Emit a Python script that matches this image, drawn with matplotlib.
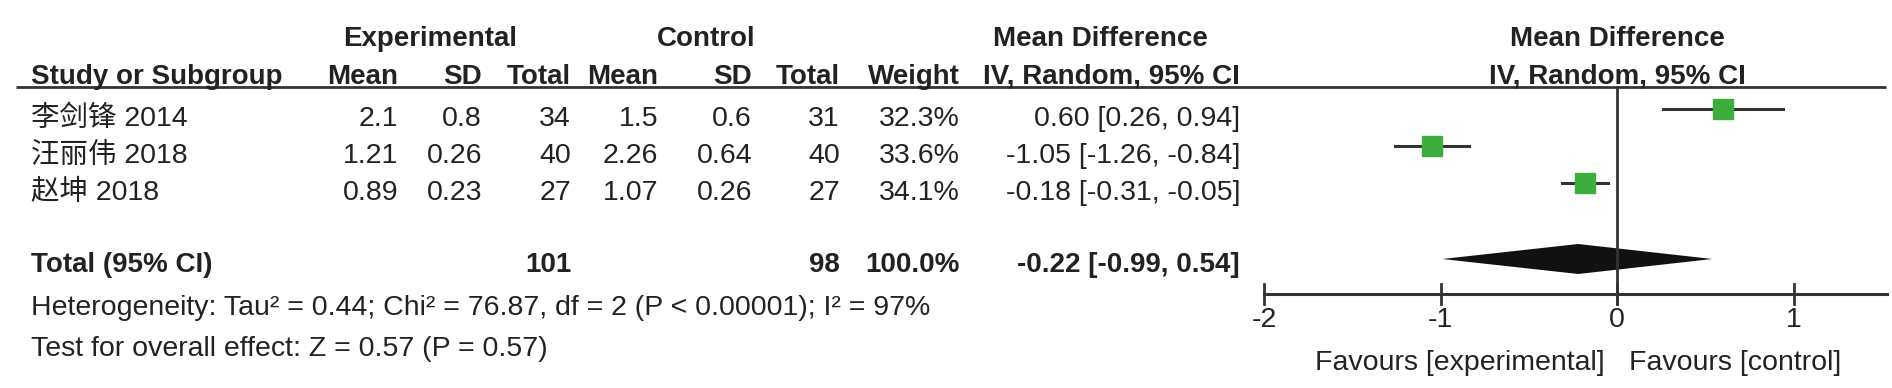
import matplotlib.pyplot as plt
import numpy as np

# ---- data ----
studies = ["李剑锋 2014", "汪丽伟 2018", "赵坤 2018"]
exp_mean = [2.1, 1.21, 0.89]
exp_sd = [0.8, 0.26, 0.23]
exp_n = [34, 40, 27]
ctl_mean = [1.5, 2.26, 1.07]
ctl_sd = [0.6, 0.64, 0.26]
ctl_n = [31, 40, 27]
weight = [32.3, 33.6, 34.1]
md = [0.60, -1.05, -0.18]
ci_lo = [0.26, -1.26, -0.31]
ci_hi = [0.94, -0.84, -0.05]

total_n_exp, total_n_ctl = 101, 98
total_weight = 100.0
total_md, total_lo, total_hi = -0.22, -0.99, 0.54

xticks = [-2, -1, 0, 1]
het_text = "Heterogeneity: Tau² = 0.44; Chi² = 76.87, df = 2 (P < 0.00001); I² = 97%"
effect_text = "Test for overall effect: Z = 0.57 (P = 0.57)"
favours = ["Favours [experimental]", "Favours [control]"]

# ---- layout (pixels) ----
W, H = 1892, 388
FAM = ['Liberation Sans', 'Noto Sans CJK SC', 'DejaVu Sans']
FS = 20.5
FS_BOLD = 20
TXT = '#222222'
LINE = '#333333'
GREEN = '#3dae3d'

y_head1, y_head2, y_rule = 36, 74, 87
y_rows = [116, 153, 190]
y_total, y_het, y_eff = 262, 305, 346
y_axis, y_tick, y_fav = 294, 317, 360
col_right = [398, 482, 571, 658, 752, 840, 960, 1240]
x_study = 31
zero_px, unit_px = 1617, 176.5
fx_left = 1230

fig = plt.figure(figsize=(W / 100, H / 100), dpi=100)
ax = fig.add_axes([0, 0, 1, 1])
ax.set_xlim(0, W)
ax.set_ylim(H, 0)
ax.axis('off')


def put(x, y, s, ha='left', bold=False, ax=ax):
    ax.text(x, y, s, ha=ha, va='center_baseline',
            fontsize=FS_BOLD if bold else FS, color=TXT,
            family=FAM, fontweight='bold' if bold else 'normal')


# headers
put(430, y_head1, "Experimental", ha='center', bold=True)
put(706, y_head1, "Control", ha='center', bold=True)
put(1100, y_head1, "Mean Difference", ha='center', bold=True)
put(zero_px, y_head1, "Mean Difference", ha='center', bold=True)
put(x_study, y_head2, "Study or Subgroup", bold=True)
for x, s in zip(col_right, ["Mean", "SD", "Total", "Mean", "SD", "Total", "Weight",
                            "IV, Random, 95% CI"]):
    put(x, y_head2, s, ha='right', bold=True)
put(zero_px, y_head2, "IV, Random, 95% CI", ha='center', bold=True)
ax.plot([16, 1886], [y_rule, y_rule], color=LINE, lw=2, solid_capstyle='butt')

# study rows
for i, y in enumerate(y_rows):
    put(x_study, y, studies[i])
    vals = [str(exp_mean[i]), str(exp_sd[i]), str(exp_n[i]),
            str(ctl_mean[i]), str(ctl_sd[i]), str(ctl_n[i]),
            f"{weight[i]:.1f}%", f"{md[i]:.2f} [{ci_lo[i]:.2f}, {ci_hi[i]:.2f}]"]
    for x, s in zip(col_right, vals):
        put(x, y, s, ha='right')

# total row
put(x_study, y_total, "Total (95% CI)", bold=True)
put(col_right[2], y_total, str(total_n_exp), ha='right', bold=True)
put(col_right[5], y_total, str(total_n_ctl), ha='right', bold=True)
put(col_right[6], y_total, f"{total_weight:.1f}%", ha='right', bold=True)
put(col_right[7], y_total, f"{total_md:.2f} [{total_lo:.2f}, {total_hi:.2f}]",
    ha='right', bold=True)
put(x_study, y_het, het_text)
put(x_study, y_eff, effect_text)

# ---- forest panel ----
fx = fig.add_axes([fx_left / W, 0, (W - fx_left) / W, 1])
fx.set_xlim((fx_left - zero_px) / unit_px, (W - zero_px) / unit_px)
fx.set_ylim(H, 0)
fx.axis('off')

fx.plot([0, 0], [y_rule, y_axis + 10], color=LINE, lw=2)
fx.plot([xticks[0], 1.53], [y_axis, y_axis], color=LINE, lw=2.2)
for t in xticks:
    fx.plot([t, t], [y_axis - 10, y_axis + 10], color=LINE, lw=2)
    fx.text(t, y_tick, f"{t:g}", ha='center', va='center_baseline', fontsize=FS,
            color=TXT, family=FAM)

for i, y in enumerate(y_rows):
    ym = y - 7
    fx.plot([ci_lo[i], ci_hi[i]], [ym, ym], color=LINE, lw=2.2)
    fx.plot(md[i], ym, marker='s', markersize=14.5 * np.sqrt(weight[i] / max(weight)),
            color=GREEN, markeredgecolor=GREEN)

yd = y_total - 3
fx.fill([total_lo, total_md, total_hi, total_md], [yd, yd - 15, yd, yd + 15],
        color='#111111', lw=0)

fx.text(-0.07, y_fav, favours[0], ha='right', va='center_baseline', fontsize=FS,
        color=TXT, family=FAM)
fx.text(0.07, y_fav, favours[1], ha='left', va='center_baseline', fontsize=FS,
        color=TXT, family=FAM)

fig.savefig("out.png", dpi=100)
